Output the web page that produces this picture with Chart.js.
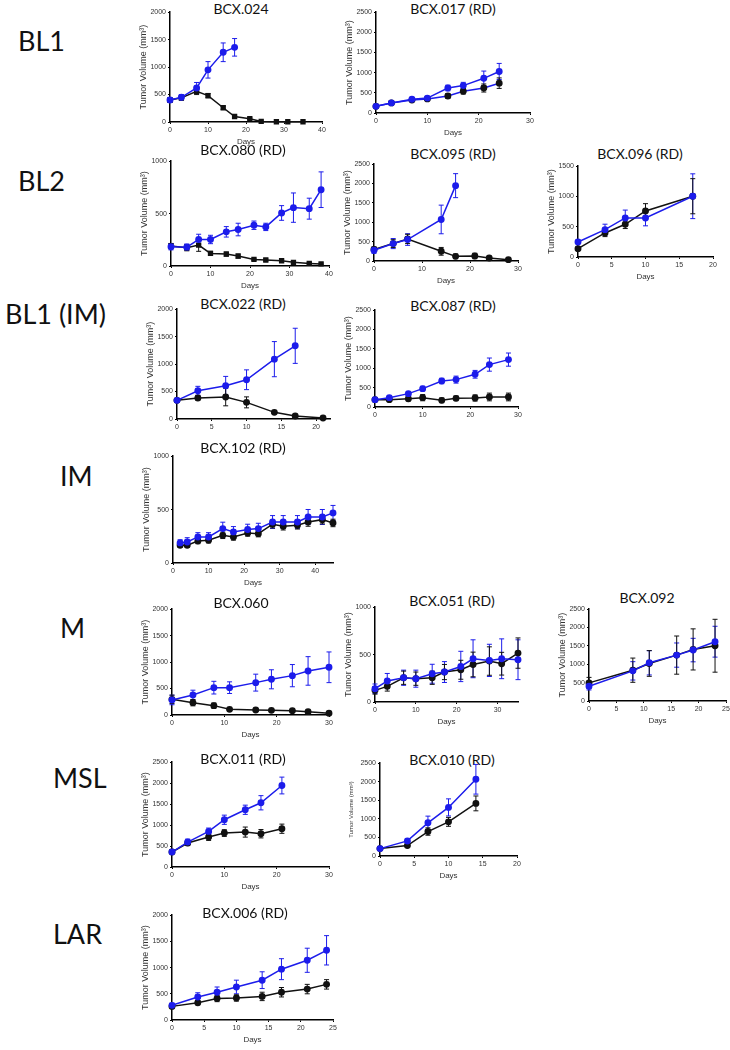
<!DOCTYPE html>
<html>
<head>
<meta charset="utf-8">
<script src="https://cdn.jsdelivr.net/npm/chart.js@4"></script>
<style>
  body { margin: 0; background: #fff; width: 730px; height: 1050px; position: relative; overflow: hidden; font-family: Lato, "Open Sans", sans-serif; }
  .lbl { position: absolute; font-size: 27px; color: #111; line-height: 1; transform: translateY(-50%); white-space: nowrap; }
  .ttl { position: absolute; font-size: 14px; color: #111; transform: translate(-50%, -50%); white-space: nowrap; }
  canvas { position: absolute; }
</style>
</head>
<body>
<script>
// tumor volume (mm3) per day: black = treated, blue = vehicle
const days024 = [0, 3, 7, 10, 14, 17, 21, 24, 28, 31, 35];
const black024 = [400, 440, 560, 480, 260, 100, 60, 10, 5, 5, 5];
const blackErr024 = [40, 40, 60, 40, 30, 20, 15, 5, 5, 5, 5];
const blue024 = [400, 450, 620, 950, 1270, 1360];
const blueErr024 = [40, 50, 100, 150, 170, 160];

const days017 = [0, 3, 7, 10, 14, 17, 21, 24];
const black017 = [165, 250, 320, 350, 420, 540, 620, 740];
const blackErr017 = [20, 30, 40, 40, 60, 70, 100, 130];
const blue017 = [165, 250, 340, 370, 620, 680, 860, 1030];
const blueErr017 = [20, 30, 40, 40, 70, 80, 180, 200];

const days080 = [0, 4, 7, 10, 14, 17, 21, 24, 28, 31, 35, 38];
const black080 = [190, 175, 200, 120, 114, 95, 63, 57, 50, 35, 25, 20];
const blackErr080 = [25, 30, 60, 20, 20, 20, 10, 10, 10, 10, 8, 8];
const blue080 = [184, 180, 253, 253, 326, 348, 389, 373, 506, 557, 547, 728];
const blueErr080 = [30, 30, 50, 40, 50, 60, 40, 35, 70, 140, 100, 170];

const days095 = [0, 4, 7, 14, 17, 21, 24, 28];
const black095 = [300, 450, 570, 250, 120, 130, 78, 35];
const blackErr095 = [60, 100, 120, 100, 60, 70, 30, 20];
const blue095 = [277, 450, 554, 1073, 1946];
const blueErr095 = [80, 130, 150, 370, 310];

const days096 = [0, 4, 7, 10, 17];
const black096 = [138, 397, 540, 761, 1004];
const blackErr096 = [20, 60, 70, 120, 290];
const blue096 = [248, 452, 645, 645, 1004];
const blueErr096 = [30, 90, 130, 130, 370];

const days022 = [0, 3, 7, 10, 14, 17, 21];
const black022 = [340, 382, 400, 303, 121, 55, 18];
const blackErr022 = [30, 40, 160, 100, 20, 20, 10];
const blue022 = [340, 515, 606, 715, 1090, 1333];
const blueErr022 = [30, 80, 170, 180, 320, 320];

const days087 = [0, 3, 7, 10, 14, 17, 21, 24, 28];
const black087 = [190, 190, 215, 241, 172, 224, 233, 259, 259];
const blackErr087 = [20, 30, 60, 80, 60, 60, 80, 100, 100];
const blue087 = [190, 241, 345, 474, 672, 707, 845, 1095, 1224];
const blueErr087 = [30, 30, 40, 60, 70, 90, 100, 170, 170];

const days102 = [2, 4, 7, 10, 14, 17, 21, 24, 28, 31, 35, 38, 42, 45];
const black102 = [166, 166, 206, 213, 259, 244, 281, 275, 363, 344, 353, 384, 406, 375];
const blackErr102 = [20, 20, 25, 25, 30, 30, 30, 30, 35, 35, 35, 40, 40, 35];
const blue102 = [188, 197, 244, 244, 322, 291, 313, 322, 384, 384, 384, 431, 431, 469];
const blueErr102 = [30, 40, 40, 40, 60, 50, 50, 50, 60, 60, 60, 70, 70, 70];

const days060 = [0, 4, 8, 11, 16, 19, 23, 26, 30];
const black060 = [296, 233, 177, 107, 95, 88, 82, 63, 32];
const blackErr060 = [80, 60, 50, 30, 20, 20, 20, 20, 20];
const blue060 = [284, 379, 517, 517, 612, 675, 744, 833, 902];
const blueErr060 = [90, 90, 120, 110, 160, 180, 210, 270, 290];

const days051 = [0, 3, 7, 10, 14, 17, 21, 24, 28, 31, 35];
const black051 = [123, 165, 256, 246, 256, 316, 340, 396, 432, 404, 516];
const blackErr051 = [40, 50, 70, 70, 70, 80, 100, 130, 150, 120, 160];
const blue051 = [140, 221, 256, 246, 298, 316, 375, 456, 439, 456, 446];
const blueErr051 = [50, 80, 80, 90, 100, 110, 160, 200, 170, 210, 210];

const days092 = [0, 8, 11, 16, 19, 23];
const black092 = [493, 839, 1022, 1250, 1405, 1505];
const blackErr092 = [150, 330, 350, 520, 560, 720];
const blue092 = [401, 821, 1040, 1250, 1387, 1615];
const blueErr092 = [100, 250, 330, 330, 320, 420];

const days011 = [0, 3, 7, 10, 14, 17, 21];
const black011 = [357, 571, 714, 810, 833, 794, 913];
const blackErr011 = [40, 60, 80, 80, 120, 100, 110];
const blue011 = [357, 595, 849, 1127, 1365, 1532, 1944];
const blueErr011 = [40, 70, 80, 110, 110, 170, 200];

const days010 = [0, 4, 7, 10, 14];
const black010 = [199, 280, 659, 920, 1417];
const blackErr010 = [20, 40, 100, 120, 200];
const blue010 = [199, 406, 894, 1309, 2067];
const blueErr010 = [30, 50, 180, 230, 400];

const days006 = [0, 4, 7, 10, 14, 17, 21, 24];
const black006 = [260, 330, 410, 420, 450, 530, 590, 680];
const blackErr006 = [30, 40, 60, 60, 80, 90, 90, 90];
const blue006 = [280, 440, 530, 630, 760, 970, 1140, 1330];
const blueErr006 = [40, 80, 100, 130, 160, 200, 230, 280];

const rowLabels = ['BL1', 'BL2', 'BL1 (IM)', 'IM', 'M', 'MSL', 'LAR'];

const BLUE = 'rgb(28,28,235)';
const BLACK = '#111';

// layout: box = plot area [left, top, right, bottom] in page pixels
const panels = [
  { title: 'BCX.024', tc: [241, 8], box: [170, 12, 322, 122], xMax: 40, xStep: 10, yMax: 2000, yStep: 500,
    days: days024, black: black024, blackErr: blackErr024, blue: blue024, blueErr: blueErr024, rect: true },
  { title: 'BCX.017 (RD)', tc: [453, 8], box: [376, 12, 530, 113], xMax: 30, xStep: 10, yMax: 2500, yStep: 500,
    days: days017, black: black017, blackErr: blackErr017, blue: blue017, blueErr: blueErr017, blackLine: BLUE },
  { title: 'BCX.080 (RD)', tc: [243, 149], box: [171, 161, 329, 266], xMax: 40, xStep: 10, yMax: 1000, yStep: 500,
    days: days080, black: black080, blackErr: blackErr080, blue: blue080, blueErr: blueErr080, rect: true },
  { title: 'BCX.095 (RD)', tc: [453, 153], box: [374, 164, 518, 261], xMax: 30, xStep: 10, yMax: 2500, yStep: 500,
    days: days095, black: black095, blackErr: blackErr095, blue: blue095, blueErr: blueErr095 },
  { title: 'BCX.096 (RD)', tc: [640, 153], box: [578, 166, 713, 257], xMax: 20, xStep: 5, yMax: 1500, yStep: 500,
    days: days096, black: black096, blackErr: blackErr096, blue: blue096, blueErr: blueErr096 },
  { title: 'BCX.022 (RD)', tc: [243, 303], box: [177, 309, 330, 419], xMax: 22, xStep: 5, yMax: 2000, yStep: 500,
    days: days022, black: black022, blackErr: blackErr022, blue: blue022, blueErr: blueErr022, noDays: true },
  { title: 'BCX.087 (RD)', tc: [453, 305], box: [375, 310, 518, 407], xMax: 30, xStep: 10, yMax: 2500, yStep: 500,
    days: days087, black: black087, blackErr: blackErr087, blue: blue087, blueErr: blueErr087, noDays: true },
  { title: 'BCX.102 (RD)', tc: [243, 447], box: [173, 456, 333, 563], xMax: 45, xStep: 10, yMax: 1000, yStep: 500,
    days: days102, black: black102, blackErr: blackErr102, blue: blue102, blueErr: blueErr102 },
  { title: 'BCX.060', tc: [241, 602], box: [172, 609, 329, 715], xMax: 30, xStep: 10, yMax: 2000, yStep: 500,
    days: days060, black: black060, blackErr: blackErr060, blue: blue060, blueErr: blueErr060 },
  { title: 'BCX.051 (RD)', tc: [452, 600], box: [375, 607, 518, 702], xMax: 35, xStep: 10, yMax: 1000, yStep: 500,
    days: days051, black: black051, blackErr: blackErr051, blue: blue051, blueErr: blueErr051 },
  { title: 'BCX.092', tc: [647, 597], box: [589, 609, 726, 701], xMax: 25, xStep: 5, yMax: 2500, yStep: 500,
    days: days092, black: black092, blackErr: blackErr092, blue: blue092, blueErr: blueErr092 },
  { title: 'BCX.011 (RD)', tc: [243, 758], box: [172, 762, 329, 867], xMax: 30, xStep: 10, yMax: 2500, yStep: 500,
    days: days011, black: black011, blackErr: blackErr011, blue: blue011, blueErr: blueErr011 },
  { title: 'BCX.010 (RD)', tc: [452, 759], box: [380, 763, 517, 856], xMax: 20, xStep: 5, yMax: 2500, yStep: 500,
    days: days010, black: black010, blackErr: blackErr010, blue: blue010, blueErr: blueErr010, yTitleSize: 6 },
  { title: 'BCX.006 (RD)', tc: [245, 912], box: [172, 915, 333, 1020], xMax: 25, xStep: 5, yMax: 2000, yStep: 500,
    days: days006, black: black006, blackErr: blackErr006, blue: blue006, blueErr: blueErr006 }
];

const labelPos = [[18, 40], [18, 180], [5, 313], [60, 475], [60, 627], [53, 777], [53, 933]];

rowLabels.forEach((t, i) => {
  const d = document.createElement('div');
  d.className = 'lbl';
  d.textContent = t;
  d.style.left = labelPos[i][0] + 'px';
  d.style.top = labelPos[i][1] + 'px';
  document.body.appendChild(d);
});

const errorBars = {
  id: 'errorBars',
  beforeDatasetsDraw(chart) {
    const ctx = chart.ctx, xs = chart.scales.x, ys = chart.scales.y;
    chart.data.datasets.forEach(ds => {
      ctx.save();
      ctx.strokeStyle = ds.pointBackgroundColor;
      ctx.lineWidth = 1;
      ds.data.forEach((pt, j) => {
        const e = ds.err[j];
        if (!e) return;
        const x = xs.getPixelForValue(pt.x);
        const yTop = ys.getPixelForValue(pt.y + e);
        const yBot = ys.getPixelForValue(Math.max(0, pt.y - e));
        ctx.beginPath();
        ctx.moveTo(x, yTop); ctx.lineTo(x, yBot);
        ctx.moveTo(x - 2.5, yTop); ctx.lineTo(x + 2.5, yTop);
        ctx.moveTo(x - 2.5, yBot); ctx.lineTo(x + 2.5, yBot);
        ctx.stroke();
      });
      ctx.restore();
    });
  }
};

const L = 32, T = 6, R = 8, B = 25;

function onStep(step) {
  return s => { s.ticks = s.ticks.filter(t => Math.abs(t.value / step - Math.round(t.value / step)) < 1e-6); };
}

panels.forEach(p => {
  const t = document.createElement('div');
  t.className = 'ttl';
  t.textContent = p.title;
  t.style.left = p.tc[0] + 'px';
  t.style.top = p.tc[1] + 'px';
  document.body.appendChild(t);

  const w = p.box[2] - p.box[0], h = p.box[3] - p.box[1];
  const cv = document.createElement('canvas');
  cv.width = L + w + R;
  cv.height = T + h + B;
  cv.style.left = (p.box[0] - L) + 'px';
  cv.style.top = (p.box[1] - T) + 'px';
  document.body.appendChild(cv);

  const blueData = p.blue.map((v, i) => ({ x: p.days[i], y: v }));
  const blackData = p.black.map((v, i) => ({ x: p.days[i], y: v }));

  const axisCommon = {
    border: { display: true, color: '#000', width: 1.5 },
    grid: { display: true, drawOnChartArea: false, drawTicks: true, tickLength: 2, color: '#000' },
    ticks: { font: { family: 'Liberation Sans', size: 7 }, color: '#333', padding: 2, maxRotation: 0, autoSkip: false,
             callback: v => String(v) }
  };

  new Chart(cv, {
    type: 'line',
    data: {
      datasets: [
        { data: blueData, err: p.blueErr, borderColor: BLUE, pointBackgroundColor: BLUE, pointBorderColor: BLUE,
          borderWidth: 1.5, pointRadius: 2.7, tension: 0, clip: false },
        { data: blackData, err: p.blackErr, borderColor: p.blackLine || BLACK, pointBackgroundColor: BLACK, pointBorderColor: BLACK,
          borderWidth: 1.5, pointRadius: 2.7, pointStyle: p.rect ? 'rect' : 'circle', tension: 0, clip: false }
      ]
    },
    options: {
      responsive: false,
      animation: false,
      devicePixelRatio: 1,
      layout: { padding: { top: T, right: R, left: 0, bottom: 0 } },
      plugins: { legend: { display: false }, title: { display: false }, tooltip: { enabled: false } },
      scales: {
        x: Object.assign({}, axisCommon, {
          type: 'linear', min: 0, max: p.xMax,
          ticks: Object.assign({}, axisCommon.ticks, { stepSize: p.xStep }),
          afterBuildTicks: onStep(p.xStep),
          title: { display: !p.noDays, text: 'Days', font: { family: 'Liberation Sans', size: 8 }, color: '#333', padding: 0 },
          afterFit: s => { s.height = B; }
        }),
        y: Object.assign({}, axisCommon, {
          min: 0, max: p.yMax,
          ticks: Object.assign({}, axisCommon.ticks, { stepSize: p.yStep }),
          title: { display: true, text: 'Tumor Volume (mm³)', font: { family: 'Liberation Sans', size: p.yTitleSize || 9 }, color: '#333', padding: 0 },
          afterFit: s => { s.width = L; }
        })
      }
    },
    plugins: [errorBars]
  });
});
</script>
</body>
</html>
